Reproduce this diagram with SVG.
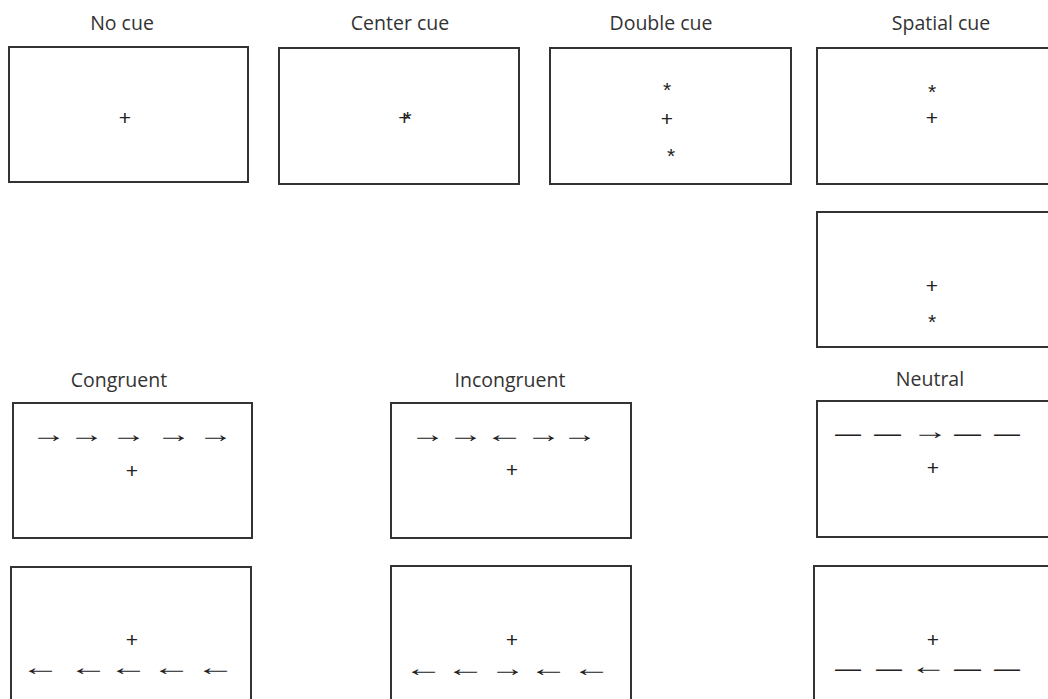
<svg xmlns="http://www.w3.org/2000/svg" width="1048" height="699" viewBox="0 0 1048 699">
<style>
.box{fill:#fff;stroke:#333;stroke-width:2}
.lbl{font-family:"Open Sans","Liberation Sans",sans-serif;font-size:19.5px;fill:#333;text-anchor:middle}
.sym{font-family:"Liberation Sans",Arial,sans-serif;font-size:21px;fill:#222;text-anchor:middle}
.arr{font-family:"Liberation Sans",Arial,sans-serif;font-size:24px;fill:#222}
</style>
<rect width="1048" height="699" fill="#fff"/>
<g id="no-cue">
<text class="lbl" x="122" y="30">No cue</text>
<rect class="box" x="9" y="47" width="239" height="135"/>
<text class="sym" x="125" y="125">+</text>
</g>
<g id="center-cue">
<text class="lbl" x="400" y="30">Center cue</text>
<rect class="box" x="279" y="48" width="240" height="136"/>
<text class="sym" x="405" y="125">+<tspan dx="-7" dy="1">*</tspan></text>
</g>
<g id="double-cue">
<text class="lbl" x="661" y="30">Double cue</text>
<rect class="box" x="550" y="48" width="241" height="136"/>
<text class="sym" x="667" y="97">*</text>
<text class="sym" x="667" y="126">+</text>
<text class="sym" x="671" y="163">*</text>
</g>
<g id="spatial-cue-up">
<text class="lbl" x="941" y="30">Spatial cue</text>
<rect class="box" x="817" y="48" width="250" height="136"/>
<text class="sym" x="932" y="99">*</text>
<text class="sym" x="932" y="125">+</text>
</g>
<g id="spatial-cue-down">
<rect class="box" x="817" y="212" width="250" height="135"/>
<text class="sym" x="932" y="293">+</text>
<text class="sym" x="932" y="329">*</text>
</g>
<g id="congruent-right">
<text class="lbl" x="119" y="387">Congruent</text>
<rect class="box" x="13" y="403" width="239" height="135"/>
<text class="arr" x="31" y="442" textLength="35" lengthAdjust="spacingAndGlyphs">→</text>
<text class="arr" x="69" y="442" textLength="35" lengthAdjust="spacingAndGlyphs">→</text>
<text class="arr" x="111" y="442" textLength="35" lengthAdjust="spacingAndGlyphs">→</text>
<text class="arr" x="156" y="442" textLength="35" lengthAdjust="spacingAndGlyphs">→</text>
<text class="arr" x="198" y="442" textLength="35" lengthAdjust="spacingAndGlyphs">→</text>
<text class="sym" x="132" y="478">+</text>
</g>
<g id="congruent-left">
<rect class="box" x="11" y="567" width="240" height="145"/>
<text class="sym" x="132" y="647">+</text>
<text class="arr" x="21" y="675" textLength="39" lengthAdjust="spacingAndGlyphs">←</text>
<text class="arr" x="69" y="675" textLength="39" lengthAdjust="spacingAndGlyphs">←</text>
<text class="arr" x="109" y="675" textLength="39" lengthAdjust="spacingAndGlyphs">←</text>
<text class="arr" x="152" y="675" textLength="39" lengthAdjust="spacingAndGlyphs">←</text>
<text class="arr" x="196" y="675" textLength="39" lengthAdjust="spacingAndGlyphs">←</text>
</g>
<g id="incongruent-right">
<text class="lbl" x="510" y="387">Incongruent</text>
<rect class="box" x="391" y="403" width="240" height="135"/>
<text class="arr" x="410" y="442" textLength="35" lengthAdjust="spacingAndGlyphs">→</text>
<text class="arr" x="448" y="442" textLength="35" lengthAdjust="spacingAndGlyphs">→</text>
<text class="arr" x="485" y="442" textLength="39" lengthAdjust="spacingAndGlyphs">←</text>
<text class="arr" x="526" y="442" textLength="35" lengthAdjust="spacingAndGlyphs">→</text>
<text class="arr" x="562" y="442" textLength="35" lengthAdjust="spacingAndGlyphs">→</text>
<text class="sym" x="512" y="477">+</text>
</g>
<g id="incongruent-left">
<rect class="box" x="391" y="566" width="240" height="145"/>
<text class="sym" x="512" y="647">+</text>
<text class="arr" x="404" y="676" textLength="39" lengthAdjust="spacingAndGlyphs">←</text>
<text class="arr" x="446" y="676" textLength="39" lengthAdjust="spacingAndGlyphs">←</text>
<text class="arr" x="490" y="676" textLength="35" lengthAdjust="spacingAndGlyphs">→</text>
<text class="arr" x="529" y="676" textLength="39" lengthAdjust="spacingAndGlyphs">←</text>
<text class="arr" x="572" y="676" textLength="39" lengthAdjust="spacingAndGlyphs">←</text>
</g>
<g id="neutral-right">
<text class="lbl" x="930" y="386">Neutral</text>
<rect class="box" x="817" y="401" width="250" height="136"/>
<text class="arr" x="835" y="441" textLength="26" lengthAdjust="spacingAndGlyphs">—</text>
<text class="arr" x="874" y="441" textLength="27" lengthAdjust="spacingAndGlyphs">—</text>
<text class="arr" x="912" y="439" textLength="36" lengthAdjust="spacingAndGlyphs">→</text>
<text class="arr" x="954" y="441" textLength="27" lengthAdjust="spacingAndGlyphs">—</text>
<text class="arr" x="994" y="441" textLength="26" lengthAdjust="spacingAndGlyphs">—</text>
<text class="sym" x="933" y="475">+</text>
</g>
<g id="neutral-left">
<rect class="box" x="814" y="566" width="250" height="145"/>
<text class="sym" x="933" y="647">+</text>
<text class="arr" x="835" y="676" textLength="26" lengthAdjust="spacingAndGlyphs">—</text>
<text class="arr" x="876" y="676" textLength="26" lengthAdjust="spacingAndGlyphs">—</text>
<text class="arr" x="910" y="674" textLength="37" lengthAdjust="spacingAndGlyphs">←</text>
<text class="arr" x="954" y="676" textLength="27" lengthAdjust="spacingAndGlyphs">—</text>
<text class="arr" x="994" y="676" textLength="26" lengthAdjust="spacingAndGlyphs">—</text>
</g>
</svg>
